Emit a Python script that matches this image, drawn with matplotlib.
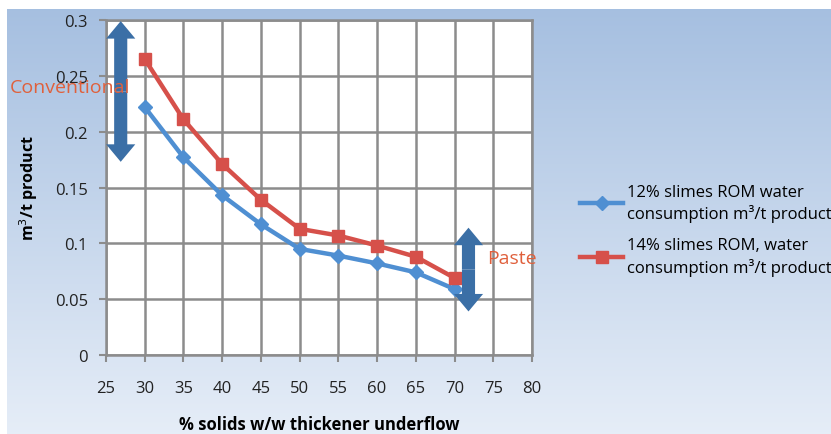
import numpy as np
import matplotlib
matplotlib.use("Agg")
import matplotlib.pyplot as plt
from matplotlib.patches import FancyArrowPatch

# data
solids = [30, 35, 40, 45, 50, 55, 60, 65, 70]
slimes12 = [0.222, 0.177, 0.143, 0.117, 0.095, 0.089, 0.082, 0.074, 0.059]
slimes14 = [0.265, 0.211, 0.171, 0.139, 0.113, 0.107, 0.098, 0.088, 0.069]
xticks = [25, 30, 35, 40, 45, 50, 55, 60, 65, 70, 75, 80]
yticks = [0, 0.05, 0.1, 0.15, 0.2, 0.25, 0.3]
ytick_labels = ["0", "0.05", "0.1", "0.15", "0.2", "0.25", "0.3"]

plt.rcParams['font.family'] = ['Open Sans', 'DejaVu Sans']

fig = plt.figure(figsize=(8.31, 4.35), dpi=100)

# gradient background (blue at top, pale at bottom)
bg = fig.add_axes([7/831, 0, 1 - 7/831, 1 - 10/435], zorder=-10)
grad = np.linspace(0, 1, 256).reshape(-1, 1)
top_c = np.array([0.65, 0.75, 0.88])
bot_c = np.array([0.90, 0.93, 0.97])
img = top_c + (bot_c - top_c) * grad[:, :, None]
bg.imshow(img, aspect='auto', extent=[0, 1, 0, 1], origin='upper')
bg.axis('off')

ax = fig.add_axes([106/831, 1 - 356/435, (532 - 106)/831, (356 - 21)/435])
ax.set_facecolor('white')

blue = '#4f8fd2'
red = '#d6504a'
ax.plot(solids, slimes12, color=blue, lw=3.2, marker='D', ms=7,
        label='12% slimes ROM water\nconsumption m³/t product', zorder=4)
ax.plot(solids, slimes14, color=red, lw=3.2, marker='s', ms=9,
        label='14% slimes ROM, water\nconsumption m³/t product', zorder=5)

ax.set_xlim(25, 80)
ax.set_ylim(0, 0.3)
ax.set_xticks(xticks)
ax.set_yticks(yticks)
ax.set_yticklabels(ytick_labels)
ax.grid(True, color='#8c8c8c', lw=1.8)
ax.set_axisbelow(True)
for s in ax.spines.values():
    s.set_color('#8c8c8c')
    s.set_linewidth(1.8)
ax.tick_params(colors='#8c8c8c', length=5, width=1.5, labelsize=12, labelcolor='#222222')
ax.tick_params(axis='x', pad=13)
ax.tick_params(axis='y', pad=8)

ax.set_xlabel('% solids w/w thickener underflow', fontsize=12, fontweight='bold', labelpad=14)
ax.set_ylabel('m$^3$/t product', fontsize=11.5, fontweight='bold', labelpad=11)

# double arrows: two single-headed arrows from the middle outwards
arrow_c = '#3b6fa6'
for (x0, y0, y1) in [(26.9, 0.299, 0.173), (71.8, 0.114, 0.039)]:
    ym = (y0 + y1) / 2
    for yt in (y0, y1):
        ar = FancyArrowPatch((x0, ym), (x0, yt),
                             arrowstyle='simple,head_length=1.2,head_width=2.0,tail_width=0.9',
                             mutation_scale=10.5, lw=0, color=arrow_c, clip_on=False, zorder=6,
                             shrinkA=0, shrinkB=0)
        ax.add_patch(ar)

ax.text(12.6, 0.24, 'Conventional', color='#e0603c', fontsize=14, va='center', clip_on=False, zorder=7)
ax.text(74.2, 0.087, 'Paste', color='#e0603c', fontsize=14, va='center', zorder=7)

leg = fig.legend(loc='center left', bbox_to_anchor=(565/831, 1 - 231/435), frameon=False,
                 fontsize=12, handlelength=2.6, labelspacing=0.9, handletextpad=0.2)
for t in leg.get_texts():
    t.set_linespacing(1.35)

fig.savefig('out.png', dpi=100)
